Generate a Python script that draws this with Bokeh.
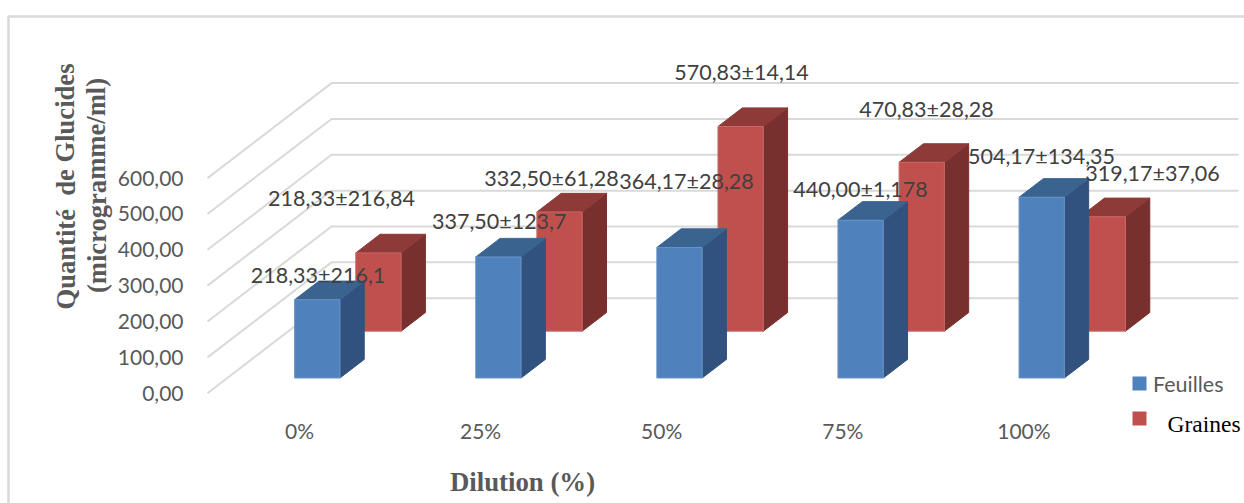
from bokeh.core.properties import value
from bokeh.embed import file_html
from bokeh.models import ColumnDataSource, FixedTicker, Range1d
from bokeh.plotting import figure
from bokeh.resources import INLINE

# Chart data
categories = ["0%", "25%", "50%", "75%", "100%"]
feuilles = [218.33, 337.50, 364.17, 440.00, 504.17]
graines = [218.33, 332.50, 570.83, 470.83, 319.17]
feuilles_labels = ["218,33±216,1", "337,50±123,7", "364,17±28,28", "440,00±1,178", "504,17±134,35"]
graines_labels = ["218,33±216,84", "332,50±61,28", "570,83±14,14", "470,83±28,28", "319,17±37,06"]
y_ticks = [0, 100, 200, 300, 400, 500, 600]
y_tick_labels = ["0,00", "100,00", "200,00", "300,00", "400,00", "500,00", "600,00"]

# Page geometry and oblique projection, in pixels
W, H = 1244, 503
PX_PER_CAT = 181.1
PX_PER_UNIT = 0.3585
X0_PX, Y0_PX = 299.0, 392.7       # where category 0 and value 0 fall on the page
DEPTH_DX, DEPTH_DY = 124.0, 95.0  # screen shift from front to back of the floor
BAR_LEFT = -24.7 / PX_PER_CAT
BAR_WIDTH = 45.3 / PX_PER_CAT
BLUE_DEPTH = (0.16, 0.356)
RED_DEPTH = (0.653, 0.849)

def xd(px):
    return (px - X0_PX) / PX_PER_CAT

def yd(py):
    return (Y0_PX - py) / PX_PER_UNIT

def project(x, v, d):
    return x + d * DEPTH_DX / PX_PER_CAT, v + d * DEPTH_DY / PX_PER_UNIT

p = figure(
    width=W, height=H, output_backend="svg", toolbar_location=None,
    x_range=Range1d(xd(0), xd(W)), y_range=Range1d(yd(H), yd(0)),
    min_border=0, outline_line_color=None, background_fill_color="white",
    border_fill_color="white",
)
p.grid.visible = False

GREY = "#595959"
LABEL = "#404040"
LATO = "Lato"
SERIF = "Liberation Serif"

# Axes with their own tick labels, sitting inside the drawing area
ya = p.yaxis[0]
ya.fixed_location = xd(191)
ya.ticker = FixedTicker(ticks=y_ticks)
ya.major_label_overrides = dict(zip(y_ticks, y_tick_labels))
ya.axis_line_color = None
ya.major_tick_line_color = None
ya.minor_tick_line_color = None
ya.major_label_text_font = LATO
ya.major_label_text_font_size = "21px"
ya.major_label_text_color = GREY
ya.major_label_standoff = 2

xa = p.xaxis[0]
xa.fixed_location = yd(409)
xa.ticker = FixedTicker(ticks=list(range(len(categories))))
xa.major_label_overrides = dict(enumerate(categories))
xa.axis_line_color = None
xa.major_tick_line_color = None
xa.minor_tick_line_color = None
xa.major_label_text_font = LATO
xa.major_label_text_font_size = "21px"
xa.major_label_text_color = GREY
xa.major_label_standoff = 2

# Outer chart border: top and left edges only
p.line([xd(8), xd(8), xd(W)], [yd(H), yd(16), yd(16)], line_color="#D9D9D9", line_width=2.5)

# Gridlines: up the side wall, then across the back wall
wall_left = xd(207)
wall_right = xd(1238)
for t in y_ticks:
    bx, by = project(wall_left, t, 1.0)
    p.line([wall_left, bx, wall_right], [t, by, by], line_color="#D9D9D9", line_width=2)

def box_polys(values, depth):
    front, side, top = ([], []), ([], []), ([], [])
    d0, d1 = depth
    for i, v in enumerate(values):
        l = i + BAR_LEFT
        r = l + BAR_WIDTH
        fl, fb = project(l, 0, d0)
        fr, ft = project(r, v, d0)
        br, bb = project(r, 0, d1)
        bl, bt = project(l, v, d1)
        brx, brt = project(r, v, d1)
        front[0].append([fl, fr, fr, fl])
        front[1].append([fb, fb, ft, ft])
        side[0].append([fr, br, brx, fr])
        side[1].append([fb, bb, brt, ft])
        top[0].append([fl, fr, brx, bl])
        top[1].append([ft, ft, brt, bt])
    return front, side, top

def draw_boxes(values, depth, front_color, side_color, top_color, edge):
    front, side, top = box_polys(values, depth)
    for polys, color, line in ((side, side_color, side_color), (top, top_color, top_color), (front, front_color, edge)):
        src = ColumnDataSource(dict(xs=polys[0], ys=polys[1]))
        p.patches("xs", "ys", source=src, fill_color=color, line_color=line, line_width=1)

# Rear series first so the front series overlaps it
draw_boxes(graines, RED_DEPTH, "#C0504D", "#78302F", "#8E3A38", "#C96A67")
draw_boxes(feuilles, BLUE_DEPTH, "#4F81BD", "#31527E", "#3B6390", "#6A94C8")

# Value labels are placed by hand around each bar
feuilles_label_px = [(317.5, 274), (498.7, 220.7), (686, 180.7), (860, 188), (1041, 155)]
graines_label_px = [(341, 197), (551, 177.7), (741, 71.7), (926, 108), (1152, 172.7)]
lx = [xd(a) for a, _ in feuilles_label_px + graines_label_px]
ly = [yd(b) for _, b in feuilles_label_px + graines_label_px]
p.text(lx, ly, text=feuilles_labels + graines_labels, text_font=value(LATO),
       text_font_size="21.5px", text_color=LABEL, text_align="center", text_baseline="middle")

# Legend
p.rect([xd(1139), xd(1139)], [yd(383), yd(418)], width=14 / PX_PER_CAT, height=14 / PX_PER_UNIT,
       fill_color=["#4F81BD", "#C0504D"], line_color=None)
p.text([xd(1152.5)], [yd(383)], text=["Feuilles"], text_font=value(LATO), text_font_size="21.5px",
       text_color=GREY, text_align="left", text_baseline="middle")
p.text([xd(1167)], [yd(423)], text=["Graines"], text_font=value(SERIF), text_font_size="23.5px",
       text_color="#000000", text_align="left", text_baseline="middle")

# Axis titles
p.text([xd(522)], [yd(481)], text=["Dilution (%)"], text_font=value(SERIF), text_font_size="26.8px",
       text_font_style="bold", text_color=GREY, text_align="center", text_baseline="middle")
p.text([xd(65), xd(96)], [yd(186), yd(185)], text=["Quantité\u00a0\u00a0de Glucides", "(microgramme/ml)"],
       angle=1.5708, text_font=value(SERIF), text_font_size="26.6px", text_font_style="bold",
       text_color=GREY, text_align="center", text_baseline="middle")

open("out.html", "w").write(file_html(p, INLINE))
